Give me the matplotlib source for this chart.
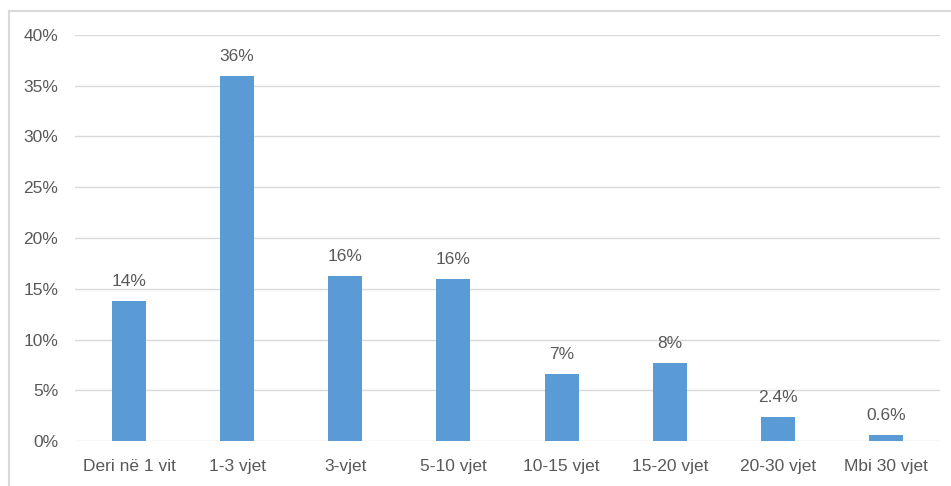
import matplotlib.pyplot as plt
from matplotlib.lines import Line2D
from matplotlib.ticker import FuncFormatter

categories = ["Deri në 1 vit", "1-3 vjet", "3-vjet", "5-10 vjet", "10-15 vjet",
              "15-20 vjet", "20-30 vjet", "Mbi 30 vjet"]
values = [0.138, 0.36, 0.163, 0.16, 0.066, 0.0765, 0.024, 0.0057]
labels = ["14%", "36%", "16%", "16%", "7%", "8%", "2.4%", "0.6%"]

BAR = "#5B9BD5"
GRID = "#D9D9D9"
TEXT = "#595959"

plt.rcParams["font.family"] = ["Liberation Sans", "DejaVu Sans"]

W, H = 951, 486
fig = plt.figure(figsize=(W / 100, H / 100), dpi=100)
ax = fig.add_axes([75 / W, 45 / H, 865 / W, 406 / H])

x = range(len(categories))
ax.bar(x, values, width=0.315, color=BAR, zorder=3)
for xi, v, lab in zip(x, values, labels):
    ax.annotate(lab, (xi, v), xytext=(0, 14), textcoords="offset points",
                ha="center", va="center", fontsize=12.5, color=TEXT)

ax.set_xlim(-0.5, len(categories) - 0.5)
ax.set_ylim(0, 0.40)
ax.set_yticks([i * 0.05 for i in range(9)])
ax.yaxis.set_major_formatter(FuncFormatter(lambda v, _: f"{v * 100:.0f}%"))
ax.set_xticks(list(x))
ax.set_xticklabels(categories)
ax.tick_params(axis="both", length=0, labelsize=12.5, labelcolor=TEXT)
ax.tick_params(axis="y", pad=12)
ax.tick_params(axis="x", pad=13)
ax.grid(axis="y", color=GRID, linewidth=1.0, zorder=0)
for s in ax.spines.values():
    s.set_visible(False)

# outer chart frame (top and left edges visible)
fig.add_artist(Line2D([8.5 / W, 8.5 / W], [0, 1 - 11.5 / H], transform=fig.transFigure,
                      color=GRID, linewidth=1.5))
fig.add_artist(Line2D([8.5 / W, 1], [1 - 11.5 / H, 1 - 11.5 / H], transform=fig.transFigure,
                      color=GRID, linewidth=1.5))

fig.savefig("out.png", dpi=100)
